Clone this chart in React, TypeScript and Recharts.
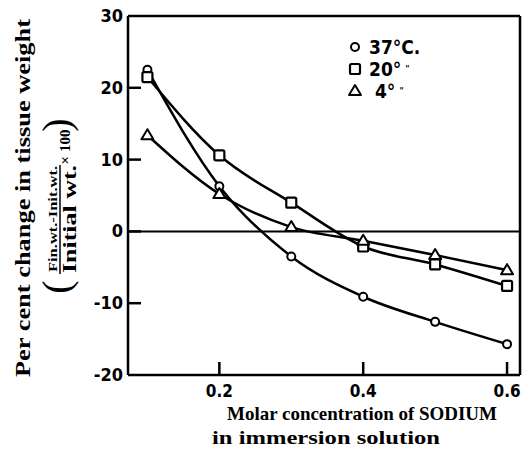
import { LineChart, Line, XAxis, YAxis, ReferenceLine, Legend, Label } from "recharts";

const sodium = [0.1, 0.2, 0.3, 0.4, 0.5, 0.6];
const temp37 = [22.5, 6.3, -3.5, -9.1, -12.6, -15.7];
const temp20 = [21.5, 10.6, 4.0, -2.1, -4.6, -7.6];
const temp4 = [13.4, 5.2, 0.6, -1.3, -3.3, -5.4];
const xTicks = [0.2, 0.4, 0.6];
const yTicks = [-20, -10, 0, 10, 20, 30];
const legendNames = ["37°C.", "20°", " 4°"];

const data = sodium.map((s, i) => ({
  sodium: s,
  t37: temp37[i],
  t20: temp20[i],
  t4: temp4[i],
}));

const SERIF = "'Liberation Serif', 'DejaVu Serif', serif";
const TICKFONT = "'DejaVu Sans Condensed', 'DejaVu Sans', sans-serif";
const X_MIN = 0.073;
const X_MAX = 0.618;

// eslint-disable-next-line @typescript-eslint/no-explicit-any
function CircleDot(props: any) {
  const { cx, cy } = props;
  if (cx == null || cy == null) return null;
  return <circle cx={cx} cy={cy} r={4} fill="#fff" stroke="#000" strokeWidth={2} />;
}

// eslint-disable-next-line @typescript-eslint/no-explicit-any
function SquareDot(props: any) {
  const { cx, cy } = props;
  if (cx == null || cy == null) return null;
  return <rect x={cx - 5} y={cy - 5} width={10} height={10} rx={1.5} fill="#fff" stroke="#000" strokeWidth={2.2} />;
}

// eslint-disable-next-line @typescript-eslint/no-explicit-any
function TriangleDot(props: any) {
  const { cx, cy } = props;
  if (cx == null || cy == null) return null;
  return (
    <path
      d={`M${cx},${cy - 6} L${cx + 6},${cy + 4} L${cx - 6},${cy + 4} Z`}
      fill="#fff"
      stroke="#000"
      strokeWidth={2}
      strokeLinejoin="round"
    />
  );
}

// eslint-disable-next-line @typescript-eslint/no-explicit-any
function YTick(props: any) {
  const { x, y, payload } = props;
  const ax = x + 5;
  const edge = payload.value === 30 || payload.value === -20;
  return (
    <g>
      {!edge && <line x1={ax} y1={y} x2={ax + 13} y2={y} stroke="#000" strokeWidth={2.5} />}
      <text x={x} y={y} dy={6} textAnchor="end" fontFamily={TICKFONT} fontWeight="bold" fontSize={18} fill="#000">
        {payload.value}
      </text>
    </g>
  );
}

// eslint-disable-next-line @typescript-eslint/no-explicit-any
function XTick(props: any) {
  const { x, y, payload } = props;
  const ay = y - 9;
  return (
    <g>
      <line x1={x} y1={ay} x2={x} y2={ay - 13} stroke="#000" strokeWidth={2.5} />
      <text x={x} y={y} dy={13} textAnchor="middle" fontFamily={TICKFONT} fontWeight="bold" fontSize={17} fill="#000">
        {payload.value.toFixed(1)}
      </text>
    </g>
  );
}

function YTitle() {
  return (
    <g fontFamily={SERIF} fill="#000">
      <text
        x={30}
        y={198}
        transform="rotate(-90 30 198)"
        textAnchor="middle"
        fontSize={22}
        fontWeight="bold"
        textLength={358}
        lengthAdjust="spacingAndGlyphs"
      >
        Per cent change in tissue weight
      </text>
      <text x={70} y={287} transform="rotate(-90 70 287)" textAnchor="middle" fontSize={40}>
        (
      </text>
      <text
        x={57}
        y={219}
        transform="rotate(-90 57 219)"
        textAnchor="middle"
        fontSize={13}
        fontWeight="bold"
        textLength={106}
        lengthAdjust="spacingAndGlyphs"
      >
        Fin.wt.-Init.wt.
      </text>
      <line x1={60} y1={165} x2={60} y2={274} stroke="#000" strokeWidth={1.5} />
      <text
        x={76}
        y={219}
        transform="rotate(-90 76 219)"
        textAnchor="middle"
        fontSize={18}
        fontWeight="bold"
        textLength={108}
        lengthAdjust="spacingAndGlyphs"
      >
        Initial wt.
      </text>
      <text x={70} y={147} transform="rotate(-90 70 147)" textAnchor="middle" fontSize={15} fontWeight="bold">
        × 100
      </text>
      <text x={70} y={125} transform="rotate(-90 70 125)" textAnchor="middle" fontSize={40}>
        )
      </text>
    </g>
  );
}

function XTitle() {
  return (
    <g fontFamily={SERIF} fill="#000" fontWeight="bold" fontSize={19}>
      <text x={362} y={420} textAnchor="middle" textLength={270} lengthAdjust="spacingAndGlyphs">
        Molar concentration of SODIUM
      </text>
      <text x={326} y={444} textAnchor="middle" textLength={228} lengthAdjust="spacingAndGlyphs">
        in immersion solution
      </text>
    </g>
  );
}

function LegendBox() {
  const icons = [
    <circle key="c" cx={8} cy={9} r={4} fill="#fff" stroke="#000" strokeWidth={2} />,
    <rect key="s" x={3} y={4} width={10} height={10} rx={1.5} fill="#fff" stroke="#000" strokeWidth={2.2} />,
    <path key="t" d="M8,3 L14,13 L2,13 Z" fill="#fff" stroke="#000" strokeWidth={2} strokeLinejoin="round" />,
  ];
  return (
    <div style={{ fontFamily: TICKFONT, fontWeight: "bold", fontSize: 19, lineHeight: "22px", color: "#000" }}>
      {legendNames.map((name, i) => (
        <div key={name} style={{ display: "flex", alignItems: "center", whiteSpace: "pre" }}>
          <svg width={16} height={18} style={{ marginRight: 6 }}>
            {icons[i]}
          </svg>
          <span>{name}</span>
          {i > 0 && <span style={{ fontSize: 9, marginLeft: 4 }}>"</span>}
        </div>
      ))}
    </div>
  );
}

export default function App() {
  return (
    <div style={{ position: "absolute", left: 0, top: 0 }}>
      <LineChart width={522} height={453} data={data} margin={{ top: 16, right: 2, bottom: 48, left: 68 }}>
        <XAxis
          dataKey="sodium"
          type="number"
          domain={[X_MIN, X_MAX]}
          ticks={xTicks}
          allowDataOverflow
          height={30}
          tickSize={0}
          tickMargin={9}
          tick={XTick}
          axisLine={{ stroke: "#000", strokeWidth: 2.5 }}
        >
          <Label content={XTitle} />
        </XAxis>
        <YAxis
          type="number"
          domain={[-20, 30]}
          ticks={yTicks}
          width={60}
          tickSize={0}
          tickMargin={5}
          tick={YTick}
          axisLine={{ stroke: "#000", strokeWidth: 2.5 }}
        >
          <Label content={YTitle} />
        </YAxis>
        <ReferenceLine y={30} stroke="#000" strokeWidth={2.5} />
        <ReferenceLine x={X_MAX} stroke="#000" strokeWidth={2.5} />
        <ReferenceLine y={0} stroke="#000" strokeWidth={2} />
        <Legend
          layout="horizontal"
          verticalAlign="middle"
          content={LegendBox}
          wrapperStyle={{ position: "absolute", left: 347, top: 36, width: 100 }}
        />
        <Line type="monotone" dataKey="t37" name="37°C." stroke="#000" strokeWidth={2.5} dot={CircleDot} isAnimationActive={false} />
        <Line type="monotone" dataKey="t20" name="20°" stroke="#000" strokeWidth={2.5} dot={SquareDot} isAnimationActive={false} />
        <Line type="monotone" dataKey="t4" name="4°" stroke="#000" strokeWidth={2.5} dot={TriangleDot} isAnimationActive={false} />
      </LineChart>
    </div>
  );
}
